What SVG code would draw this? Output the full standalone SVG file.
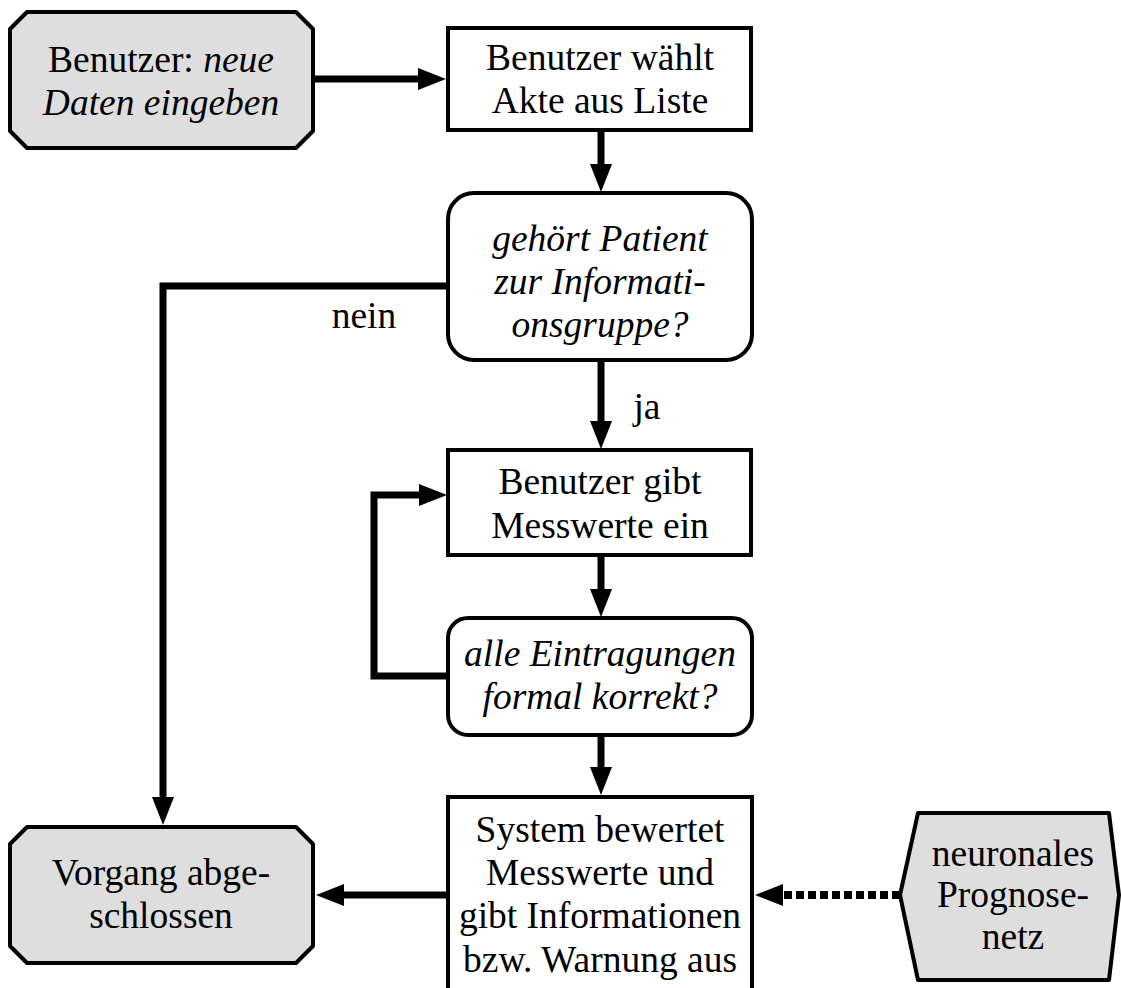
<svg xmlns="http://www.w3.org/2000/svg" width="1121" height="988" viewBox="0 0 1121 988">
  <defs>
    <marker id="arrow" markerUnits="userSpaceOnUse" markerWidth="30" markerHeight="24" refX="2" refY="11" orient="auto">
      <path d="M0,0 L28,11 L0,22 Z" fill="#000"/>
    </marker>
  </defs>
  <style>
    .box { fill: #fff; stroke: #000; stroke-width: 4; }
    .term { fill: #dedede; stroke: #000; stroke-width: 4; stroke-linejoin: round; }
    .wire { fill: none; stroke: #000; stroke-width: 7; stroke-linejoin: miter; }
    .dots { fill: none; stroke: #000; stroke-width: 8; stroke-dasharray: 8 4; }
    text { font-family: "Liberation Serif", "Times New Roman", serif; font-size: 37.5px; fill: #000; text-anchor: middle; }
    .it { font-style: italic; }
  </style>

  <g id="connectors">
    <path class="wire" d="M313,79 H420" marker-end="url(#arrow)"/>
    <path class="wire" d="M601,130 V166" marker-end="url(#arrow)"/>
    <path class="wire" d="M448,286 H163 V799" marker-end="url(#arrow)"/>
    <path class="wire" d="M601,360 V423" marker-end="url(#arrow)"/>
    <path class="wire" d="M601,555 V591" marker-end="url(#arrow)"/>
    <path class="wire" d="M448,676 H374 V495 H421" marker-end="url(#arrow)"/>
    <path class="wire" d="M601,735 V769" marker-end="url(#arrow)"/>
    <path class="wire" d="M448,895 H342" marker-end="url(#arrow)"/>
    <path class="dots" d="M900,895 H781" marker-end="url(#arrow)"/>
    <text x="364" y="328">nein</text>
    <text x="647" y="419">ja</text>
  </g>

  <g id="start">
    <path class="term" d="M27,12 H296 L313,29 V131 L296,148 H27 L10,131 V29 Z"/>
    <text x="161" y="72">Benutzer: <tspan class="it">neue</tspan></text>
    <text x="161" y="115" class="it">Daten eingeben</text>
  </g>

  <g id="select">
    <rect class="box" x="448" y="28" width="303" height="102"/>
    <text x="600" y="70">Benutzer wählt</text>
    <text x="600" y="113">Akte aus Liste</text>
  </g>

  <g id="check-group">
    <rect class="box" x="448" y="193" width="304" height="167" rx="26" ry="26"/>
    <text x="600" y="251" class="it">gehört Patient</text>
    <text x="600" y="294" class="it">zur Informati-</text>
    <text x="600" y="337" class="it">onsgruppe?</text>
  </g>

  <g id="input">
    <rect class="box" x="448" y="450" width="303" height="105"/>
    <text x="600" y="494">Benutzer gibt</text>
    <text x="600" y="538">Messwerte ein</text>
  </g>

  <g id="check-form">
    <rect class="box" x="448" y="618" width="304" height="117" rx="20" ry="20"/>
    <text x="600" y="666" class="it">alle Eintragungen</text>
    <text x="600" y="709" class="it">formal korrekt?</text>
  </g>

  <g id="evaluate">
    <rect class="box" x="448" y="797" width="304" height="200"/>
    <text x="600" y="842">System bewertet</text>
    <text x="600" y="885">Messwerte und</text>
    <text x="600" y="928">gibt Informationen</text>
    <text x="600" y="972">bzw. Warnung aus</text>
  </g>

  <g id="done">
    <path class="term" d="M27,827 H296 L313,844 V946 L296,963 H27 L10,946 V844 Z"/>
    <text x="161" y="885">Vorgang abge-</text>
    <text x="161" y="928">schlossen</text>
  </g>

  <g id="network">
    <path class="term" d="M918,813 H1109 L1119,895 L1109,980 H918 L900,895 Z"/>
    <text x="1013" y="866">neuronales</text>
    <text x="1013" y="907">Prognose-</text>
    <text x="1013" y="949">netz</text>
  </g>
</svg>
